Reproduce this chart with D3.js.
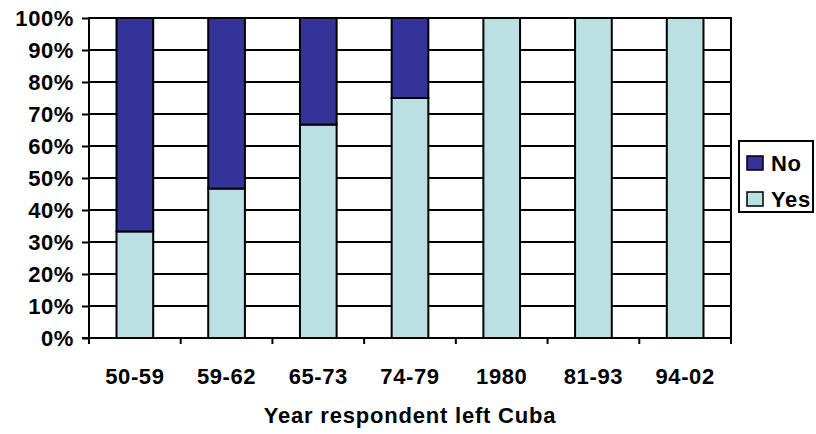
<!DOCTYPE html>
<meta charset="utf-8">
<script src="https://d3js.org/d3.v7.min.js"></script>
<style>
body { margin: 0; background: #fff; }
text { font-family: Arial, "Liberation Sans", sans-serif; font-weight: bold; fill: #000; letter-spacing: 0.6px; }
</style>
<body>
<script>
// chart data
var periods = ["50-59", "59-62", "65-73", "74-79", "1980", "81-93", "94-02"];
var yesPct = [33.3, 46.7, 66.7, 75, 100, 100, 100];
var noPct  = [66.7, 53.3, 33.3, 25, 0, 0, 0];
var yTicks = [0, 10, 20, 30, 40, 50, 60, 70, 80, 90, 100];
var seriesNames = ["No", "Yes"];
var seriesColors = {"No": "#333399", "Yes": "#BBE0E3"};

var W = 816, H = 434;
var pLeft = 89, pRight = 731, pTop = 18, pBottom = 338;
var fontSize = "22px";

var svg = d3.select("body").append("svg")
    .attr("width", W).attr("height", H);

var x = d3.scaleBand().domain(periods).range([pLeft, pRight]).paddingInner(0).paddingOuter(0);
var y = d3.scaleLinear().domain([0, 100]).range([pBottom, pTop]);
var barW = x.bandwidth() / 2.5;

// gridlines
svg.append("g").selectAll("line")
    .data(yTicks.filter(function(d) { return d > 0; }))
    .enter().append("line")
    .attr("x1", pLeft).attr("x2", pRight)
    .attr("y1", function(d) { return y(d); })
    .attr("y2", function(d) { return y(d); })
    .attr("stroke", "#000").attr("stroke-width", 2);

// right border
svg.append("line")
    .attr("x1", pRight).attr("x2", pRight).attr("y1", pTop - 1).attr("y2", pBottom)
    .attr("stroke", "#000").attr("stroke-width", 2);

// stacked bars
var rows = periods.map(function(p, i) { return {p: p, Yes: yesPct[i], No: noPct[i]}; });
var stack = d3.stack().keys(["Yes", "No"])(rows);

svg.append("g").selectAll("g")
    .data(stack).enter().append("g")
    .attr("fill", function(s) { return seriesColors[s.key]; })
    .selectAll("rect")
    .data(function(s) { return s.filter(function(d) { return d[1] - d[0] > 0; }); })
    .enter().append("rect")
    .attr("x", function(d) { return x(d.data.p) + (x.bandwidth() - barW) / 2; })
    .attr("width", barW)
    .attr("y", function(d) { return y(d[1]); })
    .attr("height", function(d) { return y(d[0]) - y(d[1]); })
    .attr("stroke", "#000").attr("stroke-width", 2);

// y axis
var yAxis = svg.append("g")
    .attr("transform", "translate(" + pLeft + ",0)")
    .call(d3.axisLeft(y).tickValues(yTicks).tickSize(7).tickPadding(8)
        .tickFormat(function(d) { return d + "%"; }));
yAxis.select(".domain").attr("d", "M0," + (pTop - 1) + "V" + pBottom);
yAxis.selectAll("path, line").attr("stroke", "#000").attr("stroke-width", 2);
yAxis.selectAll("text").style("font-size", fontSize)
    .style("font-family", "Arial, 'Liberation Sans', sans-serif").style("font-weight", "bold");

// x axis
var xAxis = svg.append("g")
    .attr("transform", "translate(0," + pBottom + ")")
    .call(d3.axisBottom(x).tickSize(0).tickPadding(30));
xAxis.select(".domain").attr("stroke", "#000").attr("stroke-width", 2)
    .attr("d", "M" + (pLeft - 7) + ",0H" + pRight);
xAxis.selectAll("text").style("font-size", fontSize)
    .style("font-family", "Arial, 'Liberation Sans', sans-serif").style("font-weight", "bold");

// x tick marks at band boundaries
svg.append("g").selectAll("line")
    .data(periods.concat(["end"]))
    .enter().append("line")
    .attr("x1", function(d, i) { return pLeft + i * x.step(); })
    .attr("x2", function(d, i) { return pLeft + i * x.step(); })
    .attr("y1", pBottom).attr("y2", pBottom + 6)
    .attr("stroke", "#000").attr("stroke-width", 2);

// x title
svg.append("text")
    .attr("x", (pLeft + pRight) / 2).attr("y", 423)
    .attr("text-anchor", "middle")
    .style("font-size", fontSize)
    .style("letter-spacing", "0.8px")
    .text("Year respondent left Cuba");

// legend
var lg = svg.append("g").attr("transform", "translate(739,141)");
lg.append("rect").attr("width", 74).attr("height", 71)
    .attr("fill", "#fff").attr("stroke", "#000").attr("stroke-width", 2);
seriesNames.forEach(function(n, i) {
    lg.append("rect").attr("x", 8).attr("y", 15 + i * 36).attr("width", 16).attr("height", 14)
        .attr("fill", seriesColors[n]).attr("stroke", "#000").attr("stroke-width", 1.5);
    lg.append("text").attr("x", 32).attr("y", 30 + i * 36)
        .style("font-size", fontSize).text(n);
});
</script>
</body>
